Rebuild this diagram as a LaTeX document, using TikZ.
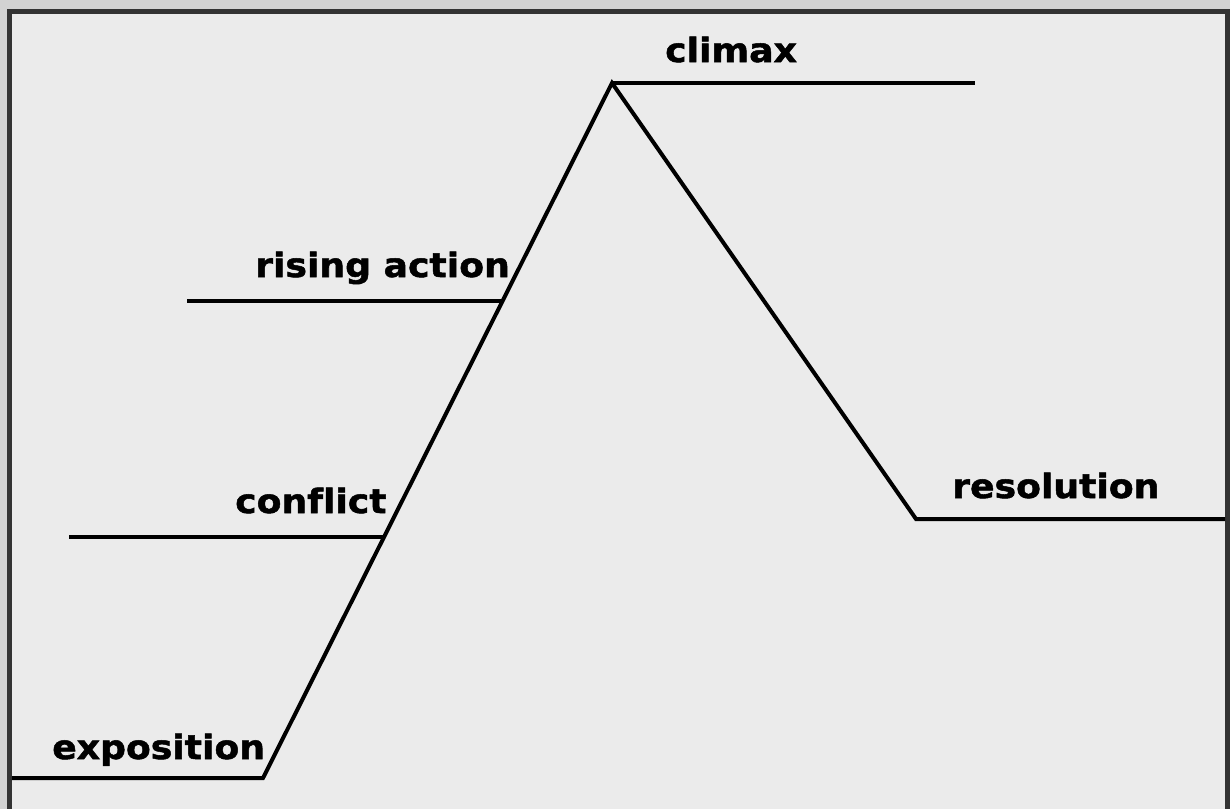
\documentclass[tikz,border=0pt]{standalone}
\usepackage{fontspec}
\setmainfont[Ligatures=NoCommon,BoldFeatures={FakeStretch=1.08,FakeBold=1.5}]{DejaVu Sans}
\definecolor{framegray}{HTML}{D2D2D2}
\definecolor{framedark}{HTML}{333333}
\definecolor{paper}{HTML}{EBEBEB}

\begin{document}
\begin{tikzpicture}[x=1pt, y=-1pt,
        % styles
        stagetext/.style = {
                anchor=base west, inner sep=0pt,
                font=\fontsize{33.5}{38}\selectfont\bfseries
            },
        plotline/.style = {
                line width=4pt, line join=miter, black
            }]

    % frame
    \fill[framegray] (0,0) rectangle (1230,809);
    \fill[framedark] (7,8.5) rectangle (1230,809);
    \fill[paper] (12,13.5) rectangle (1225,809);
    \useasboundingbox (0,0) rectangle (1230,809);

    % points of the plot line
    \coordinate (expo_start) at (12,778);
    \coordinate (expo_end) at (263,778);
    \coordinate (peak) at (612,83);
    \coordinate (climax_end) at (975,83);
    \coordinate (reso_start) at (916,519);
    \coordinate (reso_end) at (1225,519);
    \coordinate (rising_start) at (187,301);
    \coordinate (rising_end) at (502,301);
    \coordinate (conflict_start) at (69,537);
    \coordinate (conflict_end) at (384,537);

    \node (exposition) [stagetext] at (52,759) {exposition};
    \node (conflict) [stagetext] at (235,513) {conflict};
    \node (rising) [stagetext] at (255,277) {rising action};
    \node (climax) [stagetext] at (665,62) {climax};
    \node (resolution) [stagetext] at (952,498) {resolution};

    % % lines
    \draw [plotline] (expo_start) -- (expo_end) -- (peak) -- (reso_start) -- (reso_end);
    \draw [plotline] (peak) -- (climax_end);
    \draw [plotline] (rising_start) -- (rising_end);
    \draw [plotline] (conflict_start) -- (conflict_end);

\end{tikzpicture}
\end{document}
